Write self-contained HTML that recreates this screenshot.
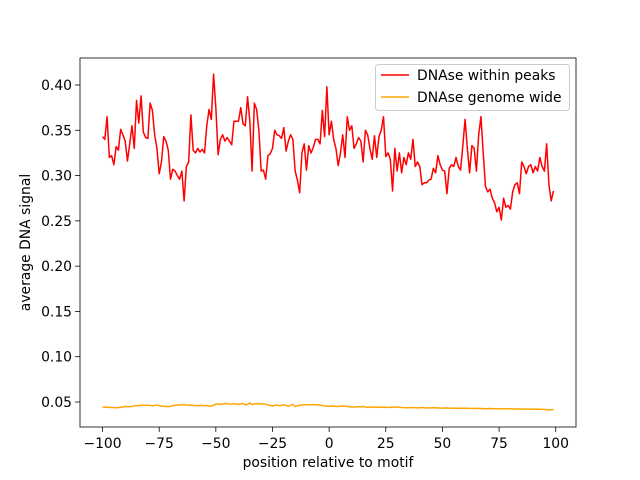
<!DOCTYPE html>
<html><head><meta charset="utf-8"><style>
body{margin:0;background:#fff}
svg{display:block;font-family:"DejaVu Sans","Liberation Sans",sans-serif}
</style></head><body>
<svg id="chart" width="640" height="480"></svg>
<script>
const positions=[];for(let i=-100;i<=99;i++)positions.push(i);
const peaksSignal=[0.343,0.340,0.365,0.320,0.322,0.312,0.332,0.328,0.351,0.345,0.338,0.316,0.335,0.355,0.330,0.383,0.358,0.388,0.348,0.342,0.341,0.380,0.372,0.345,0.330,0.302,0.315,0.343,0.338,0.328,0.296,0.307,0.305,0.300,0.296,0.305,0.272,0.310,0.315,0.367,0.328,0.325,0.330,0.326,0.329,0.325,0.355,0.373,0.362,0.412,0.375,0.323,0.340,0.345,0.338,0.342,0.338,0.334,0.360,0.360,0.360,0.375,0.357,0.355,0.387,0.360,0.305,0.380,0.373,0.350,0.305,0.306,0.296,0.322,0.324,0.330,0.350,0.345,0.344,0.341,0.353,0.327,0.338,0.345,0.340,0.305,0.295,0.281,0.325,0.335,0.306,0.333,0.325,0.331,0.340,0.340,0.335,0.372,0.343,0.398,0.345,0.360,0.340,0.330,0.311,0.325,0.345,0.320,0.365,0.350,0.355,0.330,0.335,0.342,0.338,0.315,0.350,0.345,0.330,0.318,0.344,0.320,0.343,0.350,0.365,0.321,0.325,0.318,0.283,0.330,0.305,0.325,0.303,0.320,0.312,0.325,0.318,0.340,0.310,0.315,0.310,0.290,0.292,0.292,0.295,0.296,0.308,0.303,0.322,0.312,0.306,0.305,0.280,0.308,0.312,0.310,0.320,0.310,0.306,0.333,0.362,0.330,0.303,0.333,0.330,0.305,0.345,0.365,0.325,0.288,0.282,0.285,0.275,0.270,0.260,0.265,0.251,0.275,0.265,0.267,0.263,0.282,0.290,0.292,0.280,0.315,0.310,0.302,0.310,0.312,0.303,0.310,0.305,0.320,0.310,0.305,0.335,0.290,0.272,0.283];
const genomeSignal=[0.0445,0.0443,0.0442,0.0441,0.0440,0.0438,0.0437,0.0439,0.0442,0.0445,0.0452,0.0449,0.0448,0.0452,0.0458,0.0461,0.0460,0.0463,0.0465,0.0463,0.0466,0.0461,0.0459,0.0463,0.0465,0.0461,0.0455,0.0453,0.0451,0.0449,0.0453,0.0460,0.0463,0.0466,0.0468,0.0469,0.0471,0.0466,0.0464,0.0466,0.0463,0.0461,0.0458,0.0464,0.0461,0.0459,0.0462,0.0456,0.0454,0.0465,0.0476,0.0478,0.0473,0.0478,0.0484,0.0481,0.0478,0.0476,0.0481,0.0478,0.0473,0.0480,0.0483,0.0468,0.0474,0.0490,0.0472,0.0480,0.0482,0.0480,0.0478,0.0480,0.0476,0.0466,0.0463,0.0456,0.0462,0.0468,0.0458,0.0463,0.0470,0.0462,0.0454,0.0463,0.0473,0.0450,0.0458,0.0463,0.0468,0.0470,0.0472,0.0468,0.0470,0.0473,0.0468,0.0470,0.0465,0.0462,0.0456,0.0454,0.0452,0.0456,0.0454,0.0452,0.0450,0.0454,0.0456,0.0454,0.0450,0.0449,0.0443,0.0445,0.0447,0.0449,0.0448,0.0450,0.0445,0.0441,0.0443,0.0445,0.0442,0.0445,0.0443,0.0441,0.0443,0.0442,0.0440,0.0441,0.0442,0.0443,0.0445,0.0443,0.0440,0.0438,0.0437,0.0437,0.0439,0.0438,0.0437,0.0435,0.0437,0.0439,0.0436,0.0435,0.0434,0.0435,0.0436,0.0437,0.0435,0.0433,0.0432,0.0433,0.0435,0.0432,0.0431,0.0432,0.0431,0.0430,0.0432,0.0431,0.0433,0.0430,0.0429,0.0430,0.0429,0.0428,0.0429,0.0428,0.0427,0.0426,0.0427,0.0428,0.0427,0.0426,0.0425,0.0426,0.0425,0.0424,0.0425,0.0426,0.0425,0.0424,0.0423,0.0424,0.0423,0.0422,0.0423,0.0422,0.0421,0.0422,0.0421,0.0420,0.0421,0.0420,0.0419,0.0418,0.0415,0.0413,0.0415,0.0417];
const xTicks=[-100,-75,-50,-25,0,25,50,75,100];
const yTicks=[0.05,0.10,0.15,0.20,0.25,0.30,0.35,0.40];
const yTickLabels=["0.05","0.10","0.15","0.20","0.25","0.30","0.35","0.40"];

const L=80,R=576,T=58,B=427;
const xmin=-109.95,xmax=108.95,ymin=0.0224,ymax=0.4298;
const sx=v=>L+(v-xmin)/(xmax-xmin)*(R-L);
const sy=v=>B-(v-ymin)/(ymax-ymin)*(B-T);
const svg=document.getElementById('chart');
const NS='http://www.w3.org/2000/svg';
function mk(tag,attrs,parent){const e=document.createElementNS(NS,tag);for(const k in attrs)e.setAttribute(k,attrs[k]);(parent||svg).appendChild(e);return e;}
const FS=13.9;

function line(vals,color,name){
  const d=vals.map((v,i)=>(i?'L':'M')+sx(positions[i]).toFixed(2)+','+sy(v).toFixed(2)).join('');
  const p=mk('path',{d:d,fill:'none',stroke:color,'stroke-width':1.5,'stroke-linejoin':'round'});
  
  
}
line(peaksSignal,'#ff0000','series-dnase-within-peaks');
line(genomeSignal,'#ffa500','series-dnase-genome-wide');

const frame=mk('rect',{x:L,y:T,width:R-L,height:B-T,fill:'none',stroke:'#000','stroke-width':0.8});



xTicks.forEach(t=>{
  const x=sx(t);
  mk('line',{x1:x,x2:x,y1:B,y2:B+4.9,stroke:'#000','stroke-width':0.8});
  const tx=mk('text',{x:x,y:B+21,'text-anchor':'middle','font-size':FS});
  tx.textContent=t<0?'\u2212'+(-t):String(t);
  
  
});
yTicks.forEach((t,i)=>{
  const y=sy(t);
  mk('line',{x1:L-4.9,x2:L,y1:y,y2:y,stroke:'#000','stroke-width':0.8});
  const tx=mk('text',{x:L-8,y:y+5,'text-anchor':'end','font-size':FS});
  tx.textContent=yTickLabels[i];
  
  
});
const xt=mk('text',{x:(L+R)/2,y:467,'text-anchor':'middle','font-size':FS});
xt.textContent='position relative to motif';


const yt=mk('text',{x:30,y:(T+B)/2,'text-anchor':'middle','font-size':FS,transform:'rotate(-90 30 '+((T+B)/2)+')'});
yt.textContent='average DNA signal';



const lg=mk('g',{});


mk('rect',{x:375.5,y:64.5,width:194,height:46,rx:3,fill:'#fff','fill-opacity':0.8,stroke:'#ccc','stroke-width':1},lg);
const entries=[['DNAse within peaks','#ff0000',75],['DNAse genome wide','#ffa500',97]];
entries.forEach(e=>{
  const g=mk('g',{},lg);
  
  
  mk('line',{x1:381,x2:409,y1:e[2],y2:e[2],stroke:e[1],'stroke-width':1.5},g);
  const t=mk('text',{x:417,y:e[2]+5,'font-size':FS},g);
  t.textContent=e[0];
});
</script>
</body></html>
